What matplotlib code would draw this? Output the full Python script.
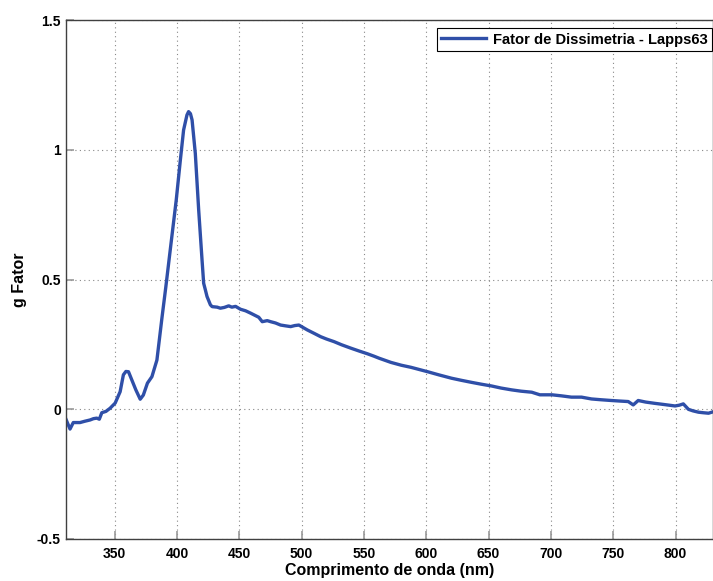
import matplotlib
matplotlib.use("Agg")
import matplotlib.pyplot as plt

wavelength = [310.9, 314.2, 316.8, 322.2, 326.0, 330.3, 333.0, 335.6, 337.7, 339.7,
              343.0, 346.3, 350.4, 354.4, 357.0, 359.0, 361.1, 363.8, 367.0, 370.5, 373.0,
              376.3, 379.9, 383.9, 387.9, 391.0, 394.6, 399.4, 402.7, 405.3, 408.0,
              409.3, 410.8, 412.1, 414.7, 417.4, 420.1, 421.4, 422.8, 424.1, 426.8,
              428.2, 432.2, 434.8, 438.0, 441.5, 444.0, 447.0, 450.9, 455.0, 459.0,
              465.6, 468.4, 472.4, 475.1, 479.0, 483.1, 487.0, 491.2, 494.5, 497.8,
              501.0, 504.6, 510.0, 515.3, 520.0, 526.0, 532.0, 539.4, 546.0, 552.9,
              558.0, 562.2, 571.6, 580.0, 587.7, 594.0, 601.1, 610.0, 620.2, 628.0,
              636.3, 644.0, 652.4, 660.0, 668.5, 676.0, 684.6, 691.1, 700.8, 708.4,
              716.4, 724.5, 732.5, 740.0, 748.6, 755.0, 762.0, 766.0, 770.0, 776.0,
              783.4, 790.0, 799.5, 803.0, 806.2, 810.3, 814.0, 818.3, 822.0, 826.4,
              830.4]
g_factor = [-0.038, -0.076, -0.051, -0.051, -0.046, -0.041, -0.036, -0.034, -0.038, -0.013,
            -0.008, 0.004, 0.024, 0.068, 0.133, 0.146, 0.145, 0.113, 0.075, 0.039, 0.055,
            0.101, 0.126, 0.190, 0.351, 0.470, 0.615, 0.807, 0.961, 1.077, 1.135,
            1.148, 1.140, 1.116, 0.987, 0.769, 0.576, 0.486, 0.460, 0.435, 0.403,
            0.396, 0.394, 0.390, 0.393, 0.399, 0.394, 0.397, 0.386, 0.380, 0.371,
            0.355, 0.338, 0.342, 0.338, 0.333, 0.325, 0.322, 0.319, 0.323, 0.325,
            0.316, 0.306, 0.293, 0.280, 0.271, 0.261, 0.249, 0.236, 0.225, 0.214,
            0.205, 0.197, 0.181, 0.170, 0.162, 0.154, 0.145, 0.133, 0.120, 0.112,
            0.104, 0.097, 0.090, 0.082, 0.075, 0.070, 0.066, 0.056, 0.056, 0.052,
            0.047, 0.047, 0.040, 0.037, 0.034, 0.032, 0.030, 0.017, 0.034, 0.028,
            0.023, 0.019, 0.013, 0.016, 0.021, 0.000, -0.006, -0.011, -0.013, -0.015,
            -0.009]
series_label = "Fator de Dissimetria - Lapps63"
xticks = [350, 400, 450, 500, 550, 600, 650, 700, 750, 800]
yticks = [-0.5, 0, 0.5, 1, 1.5]
yticklabels = ["-0.5", "0", "0.5", "1", "1.5"]

plt.rcParams['font.family'] = ['Liberation Sans', 'DejaVu Sans']
plt.rcParams['font.weight'] = 'bold'

fig = plt.figure(figsize=(7.13, 5.81), dpi=100)
ax = fig.add_axes([0.0921, 0.0723, 0.9079, 0.8927])

ax.plot(wavelength, g_factor, color='#2f4fa8', linewidth=2.4, label=series_label,
        solid_joinstyle='round')

ax.set_xlim(310.7, 830)
ax.set_ylim(-0.5, 1.5)
ax.set_xticks(xticks)
ax.set_yticks(yticks)
ax.set_yticklabels(yticklabels)
ax.tick_params(axis='both', direction='in', length=5.5, width=1.2, color='#999999',
               labelsize=10, labelcolor='black')
ax.tick_params(axis='x', pad=5.5)
ax.tick_params(axis='y', pad=3.4)
for lab in ax.get_xticklabels() + ax.get_yticklabels():
    lab.set_fontweight('bold')

ax.grid(True, linestyle=(0, (1, 3)), color='#888888', linewidth=0.8)
for s in ax.spines.values():
    s.set_color('#404040')
    s.set_linewidth(1.0)

ax.set_xlabel("Comprimento de onda (nm)", fontsize=11.5, fontweight='bold', labelpad=2)
ax.set_ylabel("g Fator", fontsize=11.5, fontweight='bold', labelpad=7)

leg = ax.legend(loc='upper right', bbox_to_anchor=(0.9985, 0.985), fontsize=10.6,
                frameon=True, fancybox=False, edgecolor='black', framealpha=1,
                borderaxespad=0, handlelength=3.0, borderpad=0.3, handletextpad=0.5)
leg.get_frame().set_linewidth(0.8)
for t in leg.get_texts():
    t.set_fontweight('bold')

fig.savefig("out.png", dpi=100)
